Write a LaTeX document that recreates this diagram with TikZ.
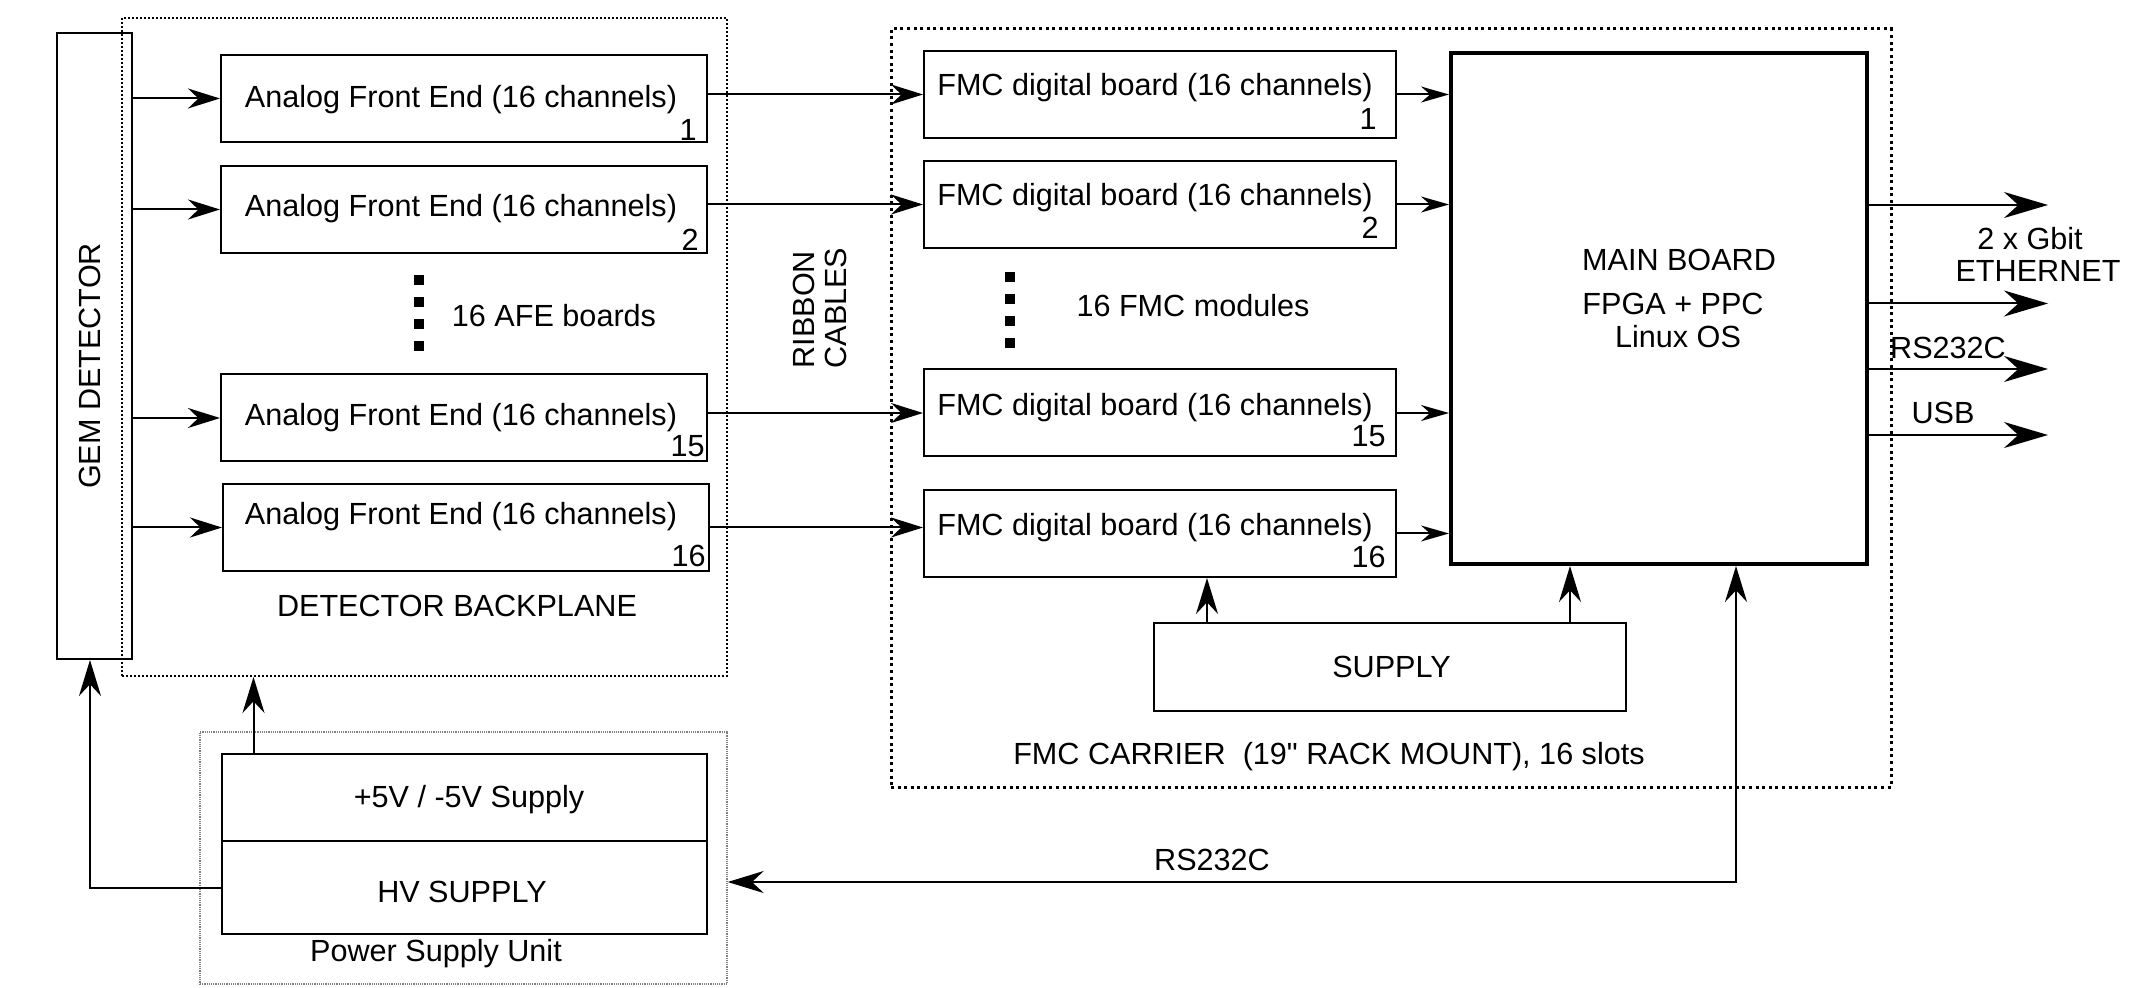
\documentclass[tikz,border=0pt]{standalone}
\usepackage{fontspec}
\setmainfont{Liberation Sans}[Ligatures=TeXOff]
\usetikzlibrary{arrows.meta,calc}
\begin{document}
\begin{tikzpicture}[x=0.5pt,y=-0.5pt,
  font=\fontsize{15.3}{16}\selectfont,
  box/.style={draw,line width=1pt,inner sep=0pt,rectangle},
  lbl/.style={inner sep=0pt},
  conn/.style={line width=1pt},
  hA/.style={-{Stealth[length=16pt,width=10pt]}},
  hS/.style={-{Stealth[length=14pt,width=8pt]}},
  hU/.style={-{Stealth[length=18pt,width=11pt]}},
  hL/.style={-{Stealth[length=22pt,width=13pt]}},
  dotA/.style={draw,inner sep=0pt,line width=1pt,dash pattern=on 1pt off 1pt},
  dotB/.style={draw,inner sep=0pt,line width=1.5pt,dash pattern=on 1.5pt off 1.8pt},
  dotC/.style={draw=black!50,inner sep=0pt,line width=0.7pt,dash pattern=on 0.6pt off 0.5pt},
  sq/.style={fill=black,inner sep=0pt,minimum width=5.3pt,minimum height=4.6pt}
]
\useasboundingbox (0,0) rectangle (2136,988);

% containers
\node[dotA,minimum width=302.5pt,minimum height=329pt] (bp) at (424.5,347) {};
\node[dotC,minimum width=263.5pt,minimum height=126pt] (psu) at (463.5,858) {};
\node[dotB,minimum width=500pt,minimum height=379pt] (carrier) at (1391,408) {};

% GEM detector
\node[box,minimum width=37.5pt,minimum height=313pt] (gem) at (94.5,346) {};
\node[lbl,rotate=90] (gemt) at (90,366) {GEM DETECTOR};

% AFE boards
\node[box,minimum width=243pt,minimum height=43.5pt] (afe1) at (464,98.5) {};
\node[box,minimum width=243pt,minimum height=43.5pt] (afe2) at (464,209.5) {};
\node[box,minimum width=243pt,minimum height=43.5pt] (afe15) at (464,418) {};
\node[box,minimum width=243pt,minimum height=43.5pt] (afe16) at (466,527.5) {};
\node[lbl] (afe1t) at (461,100) {Analog Front End (16 channels)};
\node[lbl] (afe2t) at (461,209) {Analog Front End (16 channels)};
\node[lbl] (afe15t) at (461,418) {Analog Front End (16 channels)};
\node[lbl] (afe16t) at (461,517) {Analog Front End (16 channels)};
\node[lbl,anchor=east] (afe1n) at (697,129.5) {1};
\node[lbl,anchor=east] (afe2n) at (699,240) {2};
\node[lbl,anchor=east] (afe15n) at (705,446) {15};
\node[lbl,anchor=east] (afe16n) at (706,556) {16};

\node[sq] (ad1) at (419,280) {};
\node[sq] (ad2) at (419,302) {};
\node[sq] (ad3) at (419,324) {};
\node[sq] (ad4) at (419,346) {};
\node[lbl] (afedots) at (554,316) {16 AFE boards};
\node[lbl] (bpt) at (457,606) {DETECTOR BACKPLANE};

% power supply unit
\node[box,minimum width=242.5pt,minimum height=43.5pt] (p5v) at (464.5,797.5) {};
\node[box,minimum width=242.5pt,minimum height=46.5pt] (hv) at (464.5,887.5) {};
\node[lbl] (p5vt) at (469,800) {+5V / -5V Supply};
\node[lbl] (hvt) at (462,892) {HV SUPPLY};
\node[lbl] (psut) at (436,954) {Power Supply Unit};

% ribbon cables
\node[lbl,rotate=90,align=left] (ribbon) at (820,308) {RIBBON\\CABLES};

% FMC boards
\node[box,minimum width=236pt,minimum height=43.5pt] (fmc1) at (1160,94.5) {};
\node[box,minimum width=236pt,minimum height=43.5pt] (fmc2) at (1160,204.5) {};
\node[box,minimum width=236pt,minimum height=43.5pt] (fmc15) at (1160,413) {};
\node[box,minimum width=236pt,minimum height=43.5pt] (fmc16) at (1160,533.5) {};
\node[lbl] (fmc1t) at (1155,88) {FMC digital board (16 channels)};
\node[lbl] (fmc2t) at (1155,198) {FMC digital board (16 channels)};
\node[lbl] (fmc15t) at (1155,408) {FMC digital board (16 channels)};
\node[lbl] (fmc16t) at (1155,528) {FMC digital board (16 channels)};
\node[lbl,anchor=east] (fmc1n) at (1377,119) {1};
\node[lbl,anchor=east] (fmc2n) at (1379,228) {2};
\node[lbl,anchor=east] (fmc15n) at (1386,436) {15};
\node[lbl,anchor=east] (fmc16n) at (1386,557) {16};

\node[sq] (fd1) at (1010,277) {};
\node[sq] (fd2) at (1010,299) {};
\node[sq] (fd3) at (1010,321) {};
\node[sq] (fd4) at (1010,343) {};
\node[lbl] (fmcdots) at (1193,306) {16 FMC modules};

% main board
\node[box,line width=2pt,minimum width=208pt,minimum height=255.5pt] (main) at (1659,308.5) {};
\node[lbl] (maint1) at (1679,260) {MAIN BOARD};
\node[lbl] (maint2) at (1673,304) {FPGA + PPC};
\node[lbl] (maint3) at (1678,337) {Linux OS};

% supply
\node[box,minimum width=236pt,minimum height=44pt] (sup) at (1390,667) {};
\node[lbl] (supt) at (1391.5,667) {SUPPLY};
\node[lbl] (cart) at (1329,757) {FMC CARRIER\ \ (19" RACK MOUNT), 16 slots};

% outputs
\coordinate (e1) at (2048,205);
\coordinate (e2) at (2048,303.5);
\coordinate (e3) at (2048,369);
\coordinate (e4) at (2048,435);
\node[lbl] (eth1) at (2030,239) {2 x Gbit};
\node[lbl] (eth2) at (2038,271) {ETHERNET};
\node[lbl] (rs1) at (1948,348) {RS232C};
\node[lbl] (usb) at (1943,413) {USB};
\node[lbl] (rs2) at (1212,860) {RS232C};

% connectors
\foreach \i in {1,2,15,16}{
  \draw[conn,hA] (gem.east |- afe\i.west) -- (afe\i.west);
  \draw[conn,hS] (fmc\i.east) -- (fmc\i.east -| main.west);
}
\foreach \i in {1,2,15}{
  \draw[conn,hA] (afe\i.east |- fmc\i.west) -- (fmc\i.west);
}
\draw[conn,hA] (afe16.east) -- (afe16.east -| fmc16.west);

\foreach \i in {1,2,3,4}{
  \draw[conn,hL] (main.east |- e\i) -- (e\i);
}

\draw[conn,hU] ([xshift=27pt]sup.north west) -- ([xshift=27pt]sup.north west |- fmc16.south);
\draw[conn,hU] ([xshift=208.5pt]sup.north west) -- ([xshift=208.5pt]sup.north west |- main.south);

\coordinate (rsc) at (1736,882);
\draw[conn,{Stealth[length=18pt,width=11pt]}-{Stealth[length=18pt,width=11pt]}] (rsc -| psu.east) -- (rsc) -- (rsc |- main.south);

\draw[conn,hU] ([xshift=16.25pt]p5v.north west) -- ([xshift=16.25pt]p5v.north west |- bp.south);
\coordinate (hvc) at (90,888);
\draw[conn,hU] (hv.west |- hvc) -- (hvc) -- (hvc |- gem.south);

\end{tikzpicture}
\end{document}
